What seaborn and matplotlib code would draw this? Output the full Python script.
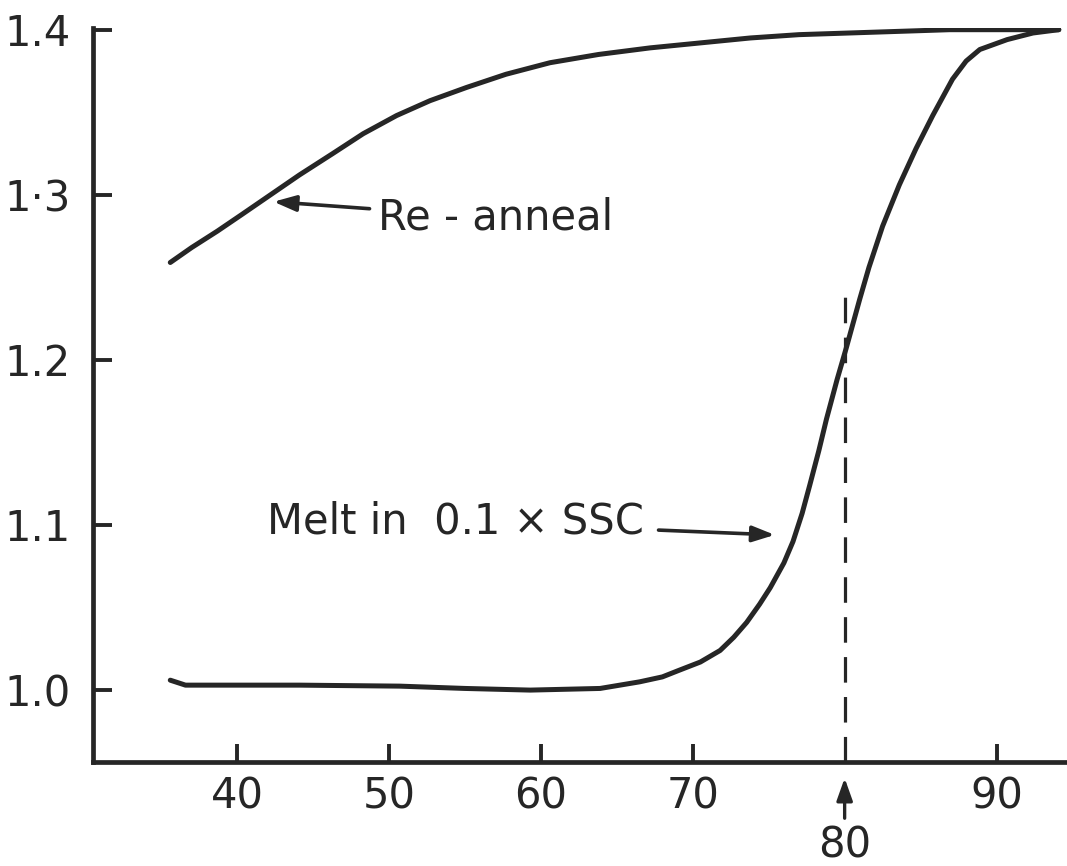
import matplotlib
matplotlib.use("Agg")
import matplotlib.pyplot as plt
import seaborn as sns
import pandas as pd

# Melting curve (relative absorbance vs temperature, °C)
melt_temp = [35.6, 36.6, 40.0, 44.1, 50.7, 55.0, 59.3, 63.9, 66.5, 68.0, 69.1, 70.5,
             71.8, 72.7, 73.55, 74.4, 75.1, 76.0, 76.6, 77.2, 77.7, 78.3, 78.8,
             79.5, 80.1, 81.0, 81.6, 82.5, 83.6, 84.7, 85.8, 87.1, 88.0, 88.9,
             90.7, 92.4, 94.1]
melt_abs = [1.006, 1.003, 1.003, 1.003, 1.0024, 1.001, 1.000, 1.001, 1.005, 1.008,
            1.012, 1.017, 1.024, 1.032, 1.041, 1.052, 1.062, 1.077, 1.090, 1.107,
            1.124, 1.145, 1.164, 1.188, 1.207, 1.237, 1.256, 1.281, 1.306, 1.328,
            1.348, 1.370, 1.381, 1.388, 1.394, 1.398, 1.400]

# Re-annealing curve
anneal_temp = [35.6, 37.0, 38.7, 40.3, 42.2, 44.1, 46.3, 48.3, 50.5, 52.7, 55.1,
               57.7, 60.6, 63.8, 67.2, 70.5, 73.8, 77.0, 80.3, 83.6, 86.9, 90.5,
               94.1]
anneal_abs = [1.259, 1.268, 1.278, 1.288, 1.300, 1.312, 1.325, 1.337, 1.348, 1.357,
              1.365, 1.373, 1.380, 1.385, 1.389, 1.392, 1.395, 1.397, 1.398, 1.399,
              1.400, 1.400, 1.400]

# Axis ticks
x_ticks = [40, 50, 60, 70, 90]
x_tick_labels = ["40", "50", "60", "70", "90"]
y_ticks = [1.0, 1.1, 1.2, 1.3, 1.4]
y_tick_labels = ["1.0", "1.1", "1.2", "1·3", "1.4"]

tm_value = 80
tm_top = 1.238

sns.set_style("ticks")
plt.rcParams["font.family"] = ["DejaVu Sans"]
ink = "#262626"

fig = plt.figure(figsize=(10.67, 8.66), dpi=100)
ax = fig.add_axes([0.087, 0.12, 0.911, 0.848])

melt_df = pd.DataFrame({"T": melt_temp, "A": melt_abs})
anneal_df = pd.DataFrame({"T": anneal_temp, "A": anneal_abs})
for df in (melt_df, anneal_df):
    sns.lineplot(data=df, x="T", y="A", ax=ax, color=ink, linewidth=3.6,
                 sort=False, solid_capstyle="round", solid_joinstyle="round")

# Tm marker
ax.vlines(tm_value, 0.9564, tm_top, colors=ink, linestyles=(0, (8, 4.5)),
          linewidth=2.3)

ax.set_xlim(30.5, 94.5)
ax.set_ylim(0.9564, 1.4012)
ax.set_xticks(x_ticks)
ax.set_xticklabels(x_tick_labels)
ax.set_yticks(y_ticks)
ax.set_yticklabels(y_tick_labels)
ax.set_xlabel("")
ax.set_ylabel("")

for side in ("top", "right"):
    ax.spines[side].set_visible(False)
for side in ("left", "bottom"):
    ax.spines[side].set_linewidth(3.4)
    ax.spines[side].set_color(ink)

ax.tick_params(axis="y", direction="in", length=14, width=2.8, color=ink,
               labelsize=30, pad=16, labelcolor=ink)
ax.tick_params(axis="x", direction="in", length=13, width=2.8, color=ink,
               labelsize=30, pad=10, labelcolor=ink)

small_head = "-|>,head_length=0.45,head_width=0.16"

# Tm label with arrow below the axis
ax.annotate("80", xy=(tm_value, 0.9467), xytext=(tm_value, 0.906),
            ha="center", va="center", fontsize=30, color=ink,
            annotation_clip=False,
            arrowprops=dict(arrowstyle=small_head, color=ink, lw=2.4,
                            shrinkA=2, shrinkB=0))

ax.annotate("Re - anneal", xy=(42.4, 1.2958), xytext=(49.3, 1.286),
            ha="left", va="center", fontsize=30, color=ink,
            arrowprops=dict(arrowstyle=small_head, color=ink, lw=2.6,
                            shrinkA=4, shrinkB=0))

ax.annotate("Melt in  0.1 × SSC", xy=(75.4, 1.094), xytext=(66.8, 1.102),
            ha="right", va="center", fontsize=30, color=ink,
            arrowprops=dict(arrowstyle=small_head, color=ink, lw=2.6,
                            shrinkA=8, shrinkB=0))

fig.savefig("out.png", dpi=100, facecolor="white")
